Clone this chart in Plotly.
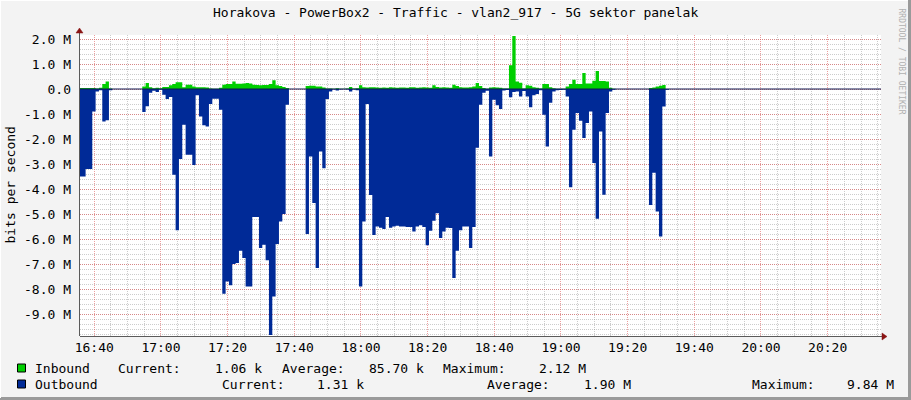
import plotly.graph_objects as go
import pandas as pd

# ---------------- data ----------------
TITLE = "Horakova - PowerBox2 - Traffic - vlan2_917 - 5G sektor panelak"
FIRST_SAMPLE = "2024-01-01 16:35:24"   # 1-minute samples
SAMPLE_FREQ = "1min"

# Inbound traffic, millions of bits per second (one value per minute)
inbound_mbps = [
    0.04, 0.04, 0.04, 0.04, 0.04, 0.02, 0.05, 0.2, 0.3, 0.02,
    0, 0, 0, 0, 0, 0, 0, 0, 0, 0.1,
    0.24, 0.07, 0.03, 0.05, 0.03, 0.08, 0.08, 0.15, 0.2, 0.27,
    0.27, 0.07, 0.17, 0.17, 0.1, 0.07, 0.07, 0.07, 0.06, 0.02,
    0.01, 0.01, 0.05, 0.17, 0.2, 0.2, 0.3, 0.21, 0.21, 0.22,
    0.24, 0.22, 0.17, 0.16, 0.15, 0.16, 0.16, 0.2, 0.35, 0.15,
    0.12, 0.08, 0.04, 0, 0, 0, 0, 0, 0.12, 0.13,
    0.13, 0.1, 0.1, 0.06, 0.02, 0.02, 0.01, 0.03, 0.01, 0.01,
    0.02, 0.08, 0.02, 0.03, 0.15, 0.07, 0.06, 0.07, 0.07, 0.06,
    0.05, 0.06, 0.05, 0.07, 0.06, 0.05, 0.06, 0.06, 0.05, 0.07,
    0.07, 0.05, 0.06, 0.07, 0.06, 0.05, 0.15, 0.08, 0.06, 0.07,
    0.06, 0.05, 0.17, 0.12, 0.07, 0.06, 0.06, 0.07, 0.1, 0.24,
    0.12, 0.04, 0.01, 0.06, 0.07, 0.06, 0.05, 0.02, 0.02, 0.95,
    2.12, 0.3, 0.25, 0.02, 0.15, 0.13, 0.07, 0.05, 0.02, 0.2,
    0.2, 0.07, 0.03, 0.01, 0.01, 0.01, 0.1, 0.2, 0.37, 0.2,
    0.2, 0.64, 0.22, 0.22, 0.33, 0.72, 0.32, 0.32, 0.3, 0.05,
    0.01, 0, 0, 0, 0, 0, 0, 0, 0, 0,
    0, 0.04, 0.06, 0.1, 0.13, 0.16, 0, 0,
]

# Outbound traffic, millions of bits per second (drawn below zero)
outbound_mbps = [
    3.5, 3.5, 3.2, 3.2, 0.9, 0.1, 0.05, 1.3, 1.25, 0.05,
    0, 0, 0, 0, 0, 0, 0, 0, 0, 0.92,
    0.69, 0.15, 0.07, 0.12, 0.03, 0.23, 0.4, 0.32, 3.43, 5.65,
    2.8, 1.43, 2.63, 2.63, 3.04, 0.25, 1.1, 1.45, 1.5, 0.6,
    0.39, 0.39, 0.83, 8.19, 7.7, 7.85, 7.0, 6.96, 6.47, 6.76,
    7.9, 7.9, 5.12, 5.12, 6.36, 6.23, 6.85, 9.84, 8.3, 6.2,
    5.3, 5.0, 0.63, 0, 0, 0, 0, 0, 5.8, 2.7,
    4.56, 7.16, 2.5, 3.17, 0.4, 0.1, 0.02, 0.06, 0.02, 0.01,
    0.02, 0.1, 0.02, 0.05, 7.9, 5.3, 0.6, 4.24, 5.84, 5.5,
    5.55, 5.6, 5.12, 5.55, 5.5, 5.47, 5.5, 5.5, 5.52, 5.52,
    5.7, 5.5, 5.45, 5.52, 6.25, 5.67, 5.27, 4.97, 5.96, 5.7,
    5.55, 5.56, 7.56, 6.47, 5.65, 5.5, 5.5, 6.36, 5.52, 2.35,
    0.63, 0.15, 0.07, 2.7, 0.43, 0.65, 0.8, 0.06, 0.04, 0.33,
    0.12, 0.1, 0.3, 0.08, 0.3, 0.73, 0.25, 0.2, 0.05, 1.03,
    2.3, 0.55, 0.1, 0.05, 0.04, 0.03, 0.3, 3.93, 1.63, 0.96,
    1.27, 1.96, 1.36, 0.9, 2.96, 5.19, 1.7, 4.23, 0.96, 0.1,
    0.03, 0, 0, 0, 0, 0, 0, 0, 0, 0,
    0, 4.64, 3.35, 4.9, 5.9, 0.7, 0.03, 0,
]

y_tick_values_m = [2, 1, 0, -1, -2, -3, -4, -5, -6, -7, -8, -9]
y_tick_labels = ["2.0 M", "1.0 M", "0.0", "-1.0 M", "-2.0 M", "-3.0 M", "-4.0 M",
                 "-5.0 M", "-6.0 M", "-7.0 M", "-8.0 M", "-9.0 M"]

X_START = "2024-01-01 16:35:43"
X_END = "2024-01-01 20:36:00"
Y_MIN_M, Y_MAX_M = -9.88, 2.16

legend_names = ["Inbound", "Outbound"]
legend_colors = ["#00CF00", "#002A97"]
stat_labels = ["Current:", "Average:", "Maximum:"]
inbound_stats = ["1.06 k", "85.70 k", "2.12 M"]
outbound_stats = ["1.31 k", "1.90 M", "9.84 M"]

# ---------------- figure ----------------
W, H = 911, 400
L, R, T, B = 80, 881, 35, 336
FONT = "DejaVu Sans Mono"


def px(x):
    return (x - L) / (R - L)


def py(y):
    return (B - y) / (B - T)


times = pd.date_range(FIRST_SAMPLE, periods=len(inbound_mbps), freq=SAMPLE_FREQ)

fig = go.Figure()
fig.add_trace(go.Scatter(
    x=times, y=[v * 1e6 for v in inbound_mbps], mode="lines",
    line=dict(width=0, shape="hv"), fill="tozeroy", fillcolor=legend_colors[0],
    name=legend_names[0], hoverinfo="skip"))
fig.add_trace(go.Scatter(
    x=times, y=[-v * 1e6 for v in outbound_mbps], mode="lines",
    line=dict(width=0, shape="hv"), fill="tozeroy", fillcolor=legend_colors[1],
    name=legend_names[1], hoverinfo="skip"))

shapes = []
# zero rule
shapes.append(dict(type="line", xref="paper", yref="y", x0=0, x1=1, y0=0, y1=0,
                   line=dict(color="#101850", width=1)))
# axes with arrows
AX = "#5a5a5a"
ARROW = "#8B1515"
shapes.append(dict(type="line", xref="paper", yref="paper", x0=px(L), x1=px(884),
                   y0=py(B + 0.5), y1=py(B + 0.5), line=dict(color=AX, width=1)))
shapes.append(dict(type="line", xref="paper", yref="paper", x0=px(L - 0.5), x1=px(L - 0.5),
                   y0=py(B), y1=py(31), line=dict(color=AX, width=1)))
shapes.append(dict(type="path", xref="paper", yref="paper",
                   path=f"M {px(882)} {py(B - 3)} L {px(887)} {py(B + 0.5)} L {px(882)} {py(B + 4)} Z",
                   fillcolor=ARROW, line=dict(color=ARROW, width=0.5)))
shapes.append(dict(type="path", xref="paper", yref="paper",
                   path=f"M {px(L - 4)} {py(33)} L {px(L - 0.5)} {py(28)} L {px(L + 3)} {py(33)} Z",
                   fillcolor=ARROW, line=dict(color=ARROW, width=0.5)))
# frame (right / bottom shading)
shapes.append(dict(type="line", xref="paper", yref="paper", x0=px(909.5), x1=px(909.5),
                   y0=py(0), y1=py(400), line=dict(color="#9a9a9a", width=3)))
shapes.append(dict(type="line", xref="paper", yref="paper", x0=px(0), x1=px(911),
                   y0=py(398.5), y1=py(398.5), line=dict(color="#9a9a9a", width=3)))
shapes.append(dict(type="line", xref="paper", yref="paper", x0=px(0.5), x1=px(0.5),
                   y0=py(0), y1=py(398), line=dict(color="#ffffff", width=1)))
shapes.append(dict(type="line", xref="paper", yref="paper", x0=px(0), x1=px(908),
                   y0=py(0.5), y1=py(0.5), line=dict(color="#ffffff", width=1)))

# legend boxes
box_rows = [368, 384]
for color, yc in zip(legend_colors, box_rows):
    shapes.append(dict(type="rect", xref="paper", yref="paper",
                       x0=px(17.5), x1=px(25.5), y0=py(yc - 4), y1=py(yc + 4),
                       fillcolor=color, line=dict(color="#000000", width=1)))

ann = []
ann.append(dict(text=TITLE, xref="paper", yref="paper", x=px(455.5), y=py(13),
                xanchor="center", yanchor="middle", showarrow=False,
                font=dict(family=FONT, size=13, color="#000")))
ann.append(dict(text="bits per second", xref="paper", yref="paper", x=px(10), y=py(185.5),
                xanchor="center", yanchor="middle", showarrow=False, textangle=-90,
                font=dict(family=FONT, size=13, color="#000")))
ann.append(dict(text="RRDTOOL / TOBI OETIKER", xref="paper", yref="paper", x=px(901.5), y=py(61),
                xanchor="center", yanchor="middle", showarrow=False, textangle=90,
                font=dict(family=FONT, size=8, color="#b0b0b0")))

row_items = [
    (368, [(33, legend_names[0]), (116, stat_labels[0]), (213, inbound_stats[0]),
           (280, stat_labels[1]), (367, inbound_stats[1]),
           (441, stat_labels[2]), (537, inbound_stats[2])]),
    (384, [(33, legend_names[1]), (220, stat_labels[0]), (315, outbound_stats[0]),
           (485, stat_labels[1]), (582, outbound_stats[1]),
           (750, stat_labels[2]), (845, outbound_stats[2])]),
]
for yc, items in row_items:
    for xl, txt in items:
        ann.append(dict(text=txt, xref="paper", yref="paper", x=px(xl), y=py(yc),
                        xanchor="left", yanchor="middle", showarrow=False,
                        font=dict(family=FONT, size=13, color="#000")))

MGRID = "rgba(222,81,81,0.55)"
GRID = "rgba(143,143,143,0.45)"

fig.update_layout(
    width=W, height=H,
    margin=dict(l=L, r=W - R, t=T, b=H - B, pad=0, autoexpand=False),
    paper_bgcolor="#F3F3F3", plot_bgcolor="#FFFFFF",
    showlegend=False,
    font=dict(family=FONT, size=13, color="#000"),
    shapes=shapes, annotations=ann,
    xaxis=dict(
        type="date", range=[X_START, X_END], tick0="2024-01-01 16:40:00",
        dtick=20 * 60 * 1000, tickformat="%H:%M", ticks="", automargin=False,
        showgrid=True, gridcolor=MGRID, griddash="1px,1px", gridwidth=1,
        minor=dict(dtick=5 * 60 * 1000, tick0="2024-01-01 16:40:00", showgrid=True,
                   gridcolor=GRID, griddash="1px,1px", gridwidth=1),
        showline=False, zeroline=False, ticklabelstandoff=2,
        tickfont=dict(family=FONT, size=13, color="#000"), fixedrange=True,
    ),
    yaxis=dict(
        range=[Y_MIN_M * 1e6, Y_MAX_M * 1e6], automargin=False,
        tickmode="array", tickvals=[v * 1e6 for v in y_tick_values_m], ticktext=y_tick_labels,
        ticks="", showgrid=True, gridcolor=MGRID, griddash="1px,1px", gridwidth=1,
        minor=dict(dtick=0.2e6, tick0=0, showgrid=True, gridcolor=GRID,
                   griddash="1px,1px", gridwidth=1),
        showline=False, zeroline=False, ticklabelstandoff=8,
        tickfont=dict(family=FONT, size=13, color="#000"), fixedrange=True,
    ),
)

fig.write_html(
    "out.html",
    config={"displayModeBar": False},
    post_script="document.body.style.margin='0';document.body.style.overflow='hidden';",
)
